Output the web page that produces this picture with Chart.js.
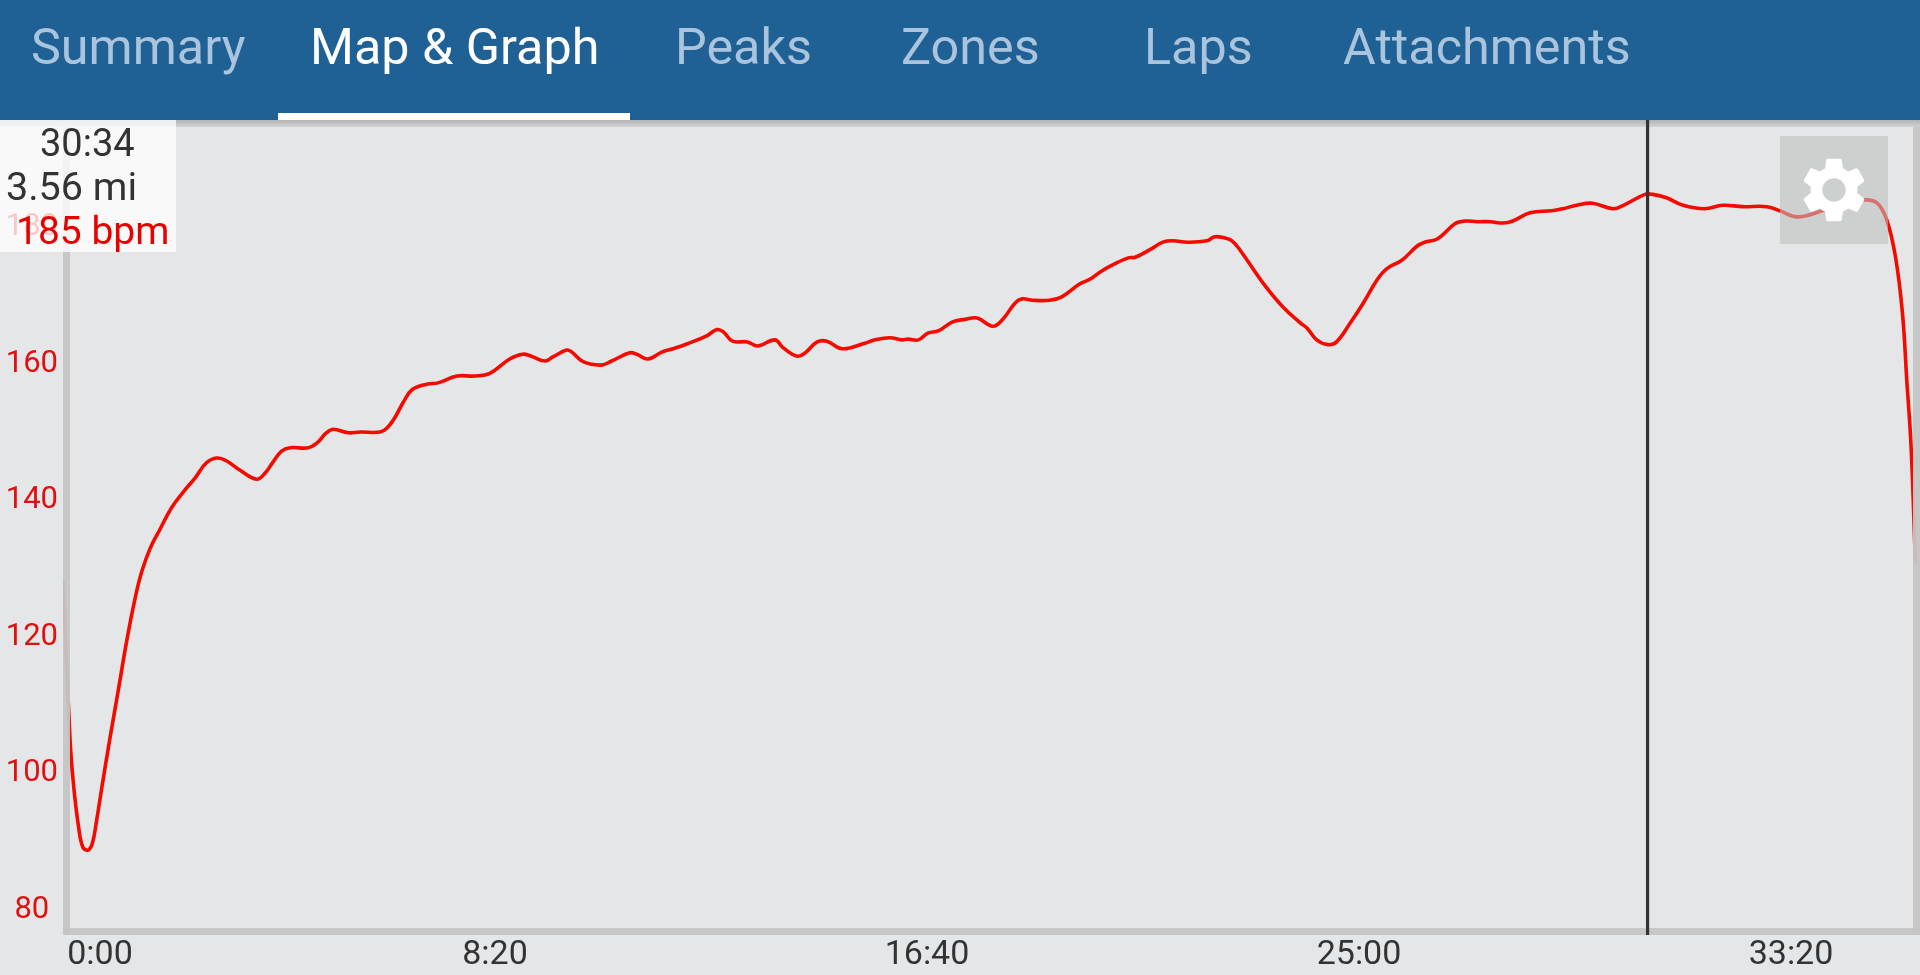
<!DOCTYPE html>
<html>
<head>
<meta charset="utf-8">
<title>Map & Graph</title>
<script src="https://cdn.jsdelivr.net/npm/chart.js@4/dist/chart.umd.min.js"></script>
<style>
    html, body { margin: 0; padding: 0; background: #e5e6e8; overflow: hidden; }
    body { width: 1920px; height: 975px; position: relative; font-family: Roboto, sans-serif; }
    canvas { position: absolute; left: 0; top: 0; }
    #tabs { position: absolute; left: 0; top: 0; width: 1920px; height: 120px; background: #206195; }
    .tab { position: absolute; top: 18px; font-size: 50.3px; line-height: 58px; color: #a9c4dc; white-space: nowrap; }
    .tab.active { color: #fff; }
    #underline { position: absolute; left: 278px; top: 113px; width: 352px; height: 7px; background: #fff; }
    #readout { position: absolute; left: 0; top: 120px; width: 176px; height: 132px; background: rgba(255, 255, 255, 0.77); }
    .line { position: absolute; line-height: 44px; color: #333; white-space: nowrap; }
    #settings { position: absolute; left: 1780px; top: 136px; width: 108px; height: 108px; background: rgba(190, 190, 190, 0.58); }
    #settings svg { position: absolute; left: 15px; top: 15px; width: 78px; height: 78px; }
</style>
</head>
<body>
<canvas id="hrChart" width="1920" height="975"></canvas>
<div id="tabs">
    <div class="tab" style="left:31px">Summary</div>
    <div class="tab active" style="left:310px">Map &amp; Graph</div>
    <div class="tab" style="left:675px">Peaks</div>
    <div class="tab" style="left:901px">Zones</div>
    <div class="tab" style="left:1144px">Laps</div>
    <div class="tab" style="left:1343px">Attachments</div>
    <div id="underline"></div>
</div>
<div id="readout">
    <div class="line" style="left:40px;top:1px;font-size:38px">30:34</div>
    <div class="line" style="left:6px;top:45px;font-size:39.5px">3.56 mi</div>
    <div class="line" style="left:16px;top:89px;font-size:39px;color:#e80000">185 bpm</div>
</div>
<div id="settings">
    <svg viewBox="0 0 24 24"><path fill="#fff" d="M19.14 12.94c.04-.3.06-.61.06-.94 0-.32-.02-.64-.07-.94l2.03-1.58c.18-.14.23-.41.12-.61l-1.92-3.32c-.12-.22-.37-.29-.59-.22l-2.39.96c-.5-.38-1.03-.7-1.62-.94l-.36-2.54c-.04-.24-.24-.41-.48-.41h-3.84c-.24 0-.43.17-.47.41l-.36 2.54c-.59.24-1.13.57-1.62.94l-2.39-.96c-.22-.08-.47 0-.59.22L2.74 8.87c-.12.21-.08.47.12.61l2.03 1.58c-.05.3-.09.63-.09.94s.02.64.07.94l-2.03 1.58c-.18.14-.23.41-.12.61l1.92 3.32c.12.22.37.29.59.22l2.39-.96c.5.38 1.03.7 1.62.94l.36 2.54c.05.24.24.41.48.41h3.84c.24 0 .44-.17.47-.41l.36-2.54c.59-.24 1.13-.56 1.62-.94l2.39.96c.22.08.47 0 .59-.22l1.92-3.32c.12-.22.07-.47-.12-.61l-2.01-1.58zM12 15.6c-1.98 0-3.6-1.62-3.6-3.6s1.62-3.6 3.6-3.6 3.6 1.62 3.6 3.6-1.62 3.6-3.6 3.6z"/></svg>
</div>
<script>
// Elapsed time in seconds
const seconds = [
    0, 8, 12, 18, 23, 29, 34, 39, 45, 54, 64, 74, 83, 91, 101, 112, 126, 141, 153,
    166, 178, 189, 205, 224, 234, 243, 253, 263, 284, 294, 305, 313, 330, 344, 367, 375, 384, 394, 404,
    421, 434, 456, 477, 494, 517, 532, 542, 558, 567, 583, 589, 602, 623, 635, 656, 664, 677, 693, 706,
    722, 745, 757, 764, 775, 792, 804, 824, 833, 844, 851, 859, 873, 884, 902, 928, 940, 957, 971, 978,
    990, 1001, 1013, 1029, 1044, 1058, 1076, 1087, 1102, 1110, 1122, 1142, 1156, 1177, 1189, 1200, 1212, 1233, 1241, 1258,
    1273, 1285, 1301, 1324, 1333, 1345, 1353, 1362, 1389, 1412, 1432, 1440, 1451, 1464, 1474, 1490, 1505, 1521, 1532, 1550,
    1567, 1576, 1591, 1611, 1623, 1637, 1652, 1667, 1678, 1698, 1723, 1736, 1752, 1770, 1794, 1806, 1831, 1840, 1856, 1875,
    1900, 1921, 1944, 1972, 1987, 2007, 2036, 2057, 2086, 2100, 2111, 2121, 2129, 2134, 2139, 2144
];

// Heart rate in bpm at each of those times
const heartRate = [
    128.3, 105.3, 98.6, 92.2, 89.2, 88.8, 89.8, 93.2, 98.0, 104.9, 112.2, 119.6, 125.4, 129.5, 133.0, 135.7, 139.0, 141.5, 143.3,
    145.5, 146.2, 145.8, 144.4, 143.1, 144.0, 145.6, 147.2, 147.7, 147.7, 148.4, 149.9, 150.4, 149.9, 150.0, 150.0, 150.6, 152.1, 154.4, 156.2,
    157.0, 157.2, 158.2, 158.2, 158.6, 160.7, 161.4, 161.1, 160.4, 161.0, 162.0, 161.7, 160.3, 159.8, 160.4, 161.6, 161.4, 160.7, 161.7, 162.2,
    162.9, 164.1, 165.0, 164.7, 163.3, 163.2, 162.6, 163.5, 162.4, 161.4, 161.1, 161.6, 163.2, 163.3, 162.2, 163.0, 163.5, 163.8, 163.5, 163.6,
    163.5, 164.5, 164.8, 166.1, 166.5, 166.7, 165.5, 166.4, 168.9, 169.5, 169.3, 169.3, 169.8, 171.7, 172.4, 173.4, 174.3, 175.5, 175.6, 176.7,
    177.8, 178.0, 177.8, 178.0, 178.6, 178.4, 178.0, 176.7, 171.8, 168.3, 166.0, 165.2, 163.5, 162.8, 163.2, 166.0, 168.9, 172.3, 173.9, 175.2,
    177.2, 177.8, 178.3, 180.5, 180.9, 180.8, 180.8, 180.6, 180.9, 182.1, 182.4, 182.7, 183.2, 183.5, 182.7, 183.2, 184.8, 184.8, 184.3, 183.2,
    182.7, 183.2, 183.0, 183.0, 182.4, 181.5, 182.4, 183.4, 184.0, 183.5, 181.0, 175.6, 167.4, 157.6, 147.8, 130.8
];

// Axis ticks
const timeTicks = [0, 500, 1000, 1500, 2000];
const timeLabels = ['0:00', '8:20', '16:40', '25:00', '33:20'];
const bpmTicks = [80, 100, 120, 140, 160, 180];

// Cursor position, 30:34
const cursorSeconds = 1834;

// Axis limits
const xMin = 0;
const xMax = 2149.3;
const yMin = 76.36;
const yMax = 195.69;

// Draws the grey frame on top of the heart rate line but under the cursor
const framePlugin = {
    id: 'frame',
    afterDatasetDraw(chart, args) {
        if (args.index !== 1) return;
        const { ctx, chartArea: a } = chart;
        ctx.save();
        ctx.fillStyle = 'rgba(197, 197, 197, 0.95)';
        ctx.fillRect(a.left, a.top, 7, a.bottom - a.top);
        ctx.fillRect(a.right - 7, a.top, 7, a.bottom - a.top);
        ctx.fillRect(a.left, a.bottom - 7, a.right - a.left, 7);
        const shadow = ctx.createLinearGradient(0, a.top, 0, a.top + 7);
        shadow.addColorStop(0, '#b4b4b4');
        shadow.addColorStop(1, '#d0d1d2');
        ctx.fillStyle = shadow;
        ctx.fillRect(0, a.top, a.right, 7);
        ctx.restore();
    }
};

const ctx = document.getElementById('hrChart').getContext('2d');

new Chart(ctx, {
    type: 'line',
    data: {
        datasets: [
            {
                label: 'Cursor',
                data: [{ x: cursorSeconds, y: yMin }, { x: cursorSeconds, y: yMax }],
                borderColor: '#333333',
                borderWidth: 3.2,
                pointRadius: 0
            },
            {
                label: 'Heart rate',
                data: seconds.map((s, i) => ({ x: s, y: heartRate[i] })),
                borderColor: '#f50a00',
                borderWidth: 3.6,
                pointRadius: 0,
                tension: 0.4
            }
        ]
    },
    options: {
        responsive: false,
        animation: false,
        layout: { padding: { top: 120, left: 0, right: 0, bottom: 0 } },
        plugins: {
            legend: { display: false },
            tooltip: { enabled: false }
        },
        scales: {
            x: {
                type: 'linear',
                min: xMin,
                max: xMax,
                grid: { display: false, drawTicks: false },
                border: { display: false },
                afterBuildTicks: axis => { axis.ticks = timeTicks.map(value => ({ value })); },
                afterFit: axis => {
                    axis.height = 40;
                    // first label sits inside the plot instead of centred on its tick
                    axis.getPixelForTick = function (i) {
                        return this.getPixelForValue(this.ticks[i].value) + (i === 0 ? 37 : 0);
                    };
                },
                ticks: {
                    autoSkip: false,
                    maxRotation: 0,
                    padding: 3,
                    color: '#333333',
                    font: { family: 'Roboto', size: 34, lineHeight: 1 },
                    callback: (value, index) => timeLabels[index]
                }
            },
            y: {
                type: 'linear',
                min: yMin,
                max: yMax,
                grid: { display: false, drawTicks: false },
                border: { display: false },
                afterBuildTicks: axis => { axis.ticks = bpmTicks.map(value => ({ value })); },
                afterFit: axis => { axis.width = 63; },
                ticks: {
                    autoSkip: false,
                    crossAlign: 'center',
                    padding: 5,
                    color: '#e01010',
                    font: { family: 'Roboto', size: 31 }
                }
            }
        }
    },
    plugins: [framePlugin]
});
</script>
</body>
</html>
